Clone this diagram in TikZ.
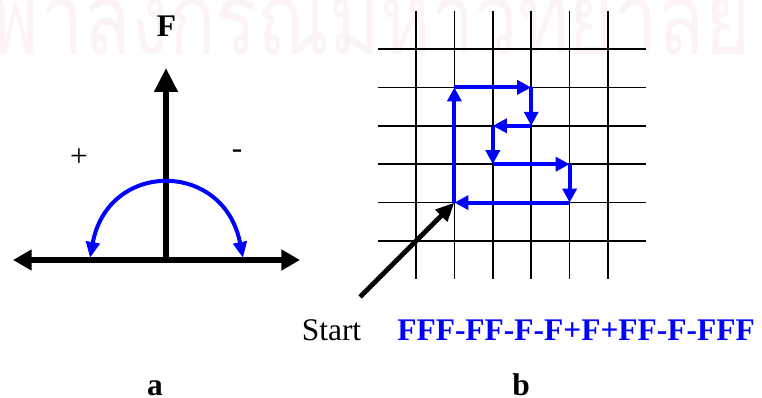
\documentclass[tikz,border=0pt]{standalone}
\usepackage{fontspec}
\usepackage{graphicx}
\setmainfont{Liberation Serif}
\newfontfamily\thaifont[Script=Thai]{Loma}
\usetikzlibrary{arrows.meta}
\definecolor{pathblue}{RGB}{0,0,255}
\definecolor{markpink}{RGB}{252,243,247}

\begin{document}
\begin{tikzpicture}[x=0.75pt, y=-0.75pt,
    every node/.style={font=\fontsize{23.6}{28}\selectfont, inner sep=0pt},
    axis/.style={line width=4.2pt, -{Triangle[length=18pt,width=17pt]}},
    move/.style={pathblue, line width=3pt, -{Triangle[length=10.5pt,width=10.5pt]}},
    gridline/.style={line width=1.1pt}]
  \useasboundingbox (0,0) rectangle (762,398);

  % watermark
  \begin{scope}
    \clip (0,0) rectangle (762,398);
    \node[anchor=base west, font=\thaifont\fontsize{58}{60}\selectfont, text=markpink]
      (mark) at (-58,55) {\scalebox{1}[1.3]{จุฬาลงกรณ์มหาวิทยาลัย}};
  \end{scope}

  % a: axes and turn
  \coordinate (o) at (166,260);
  \coordinate (up) at (166,68);
  \coordinate (west) at (13,260);
  \coordinate (east) at (300,260);
  \draw[line width=4.2pt, {Triangle[length=14pt,width=15pt]}-{Triangle[length=14pt,width=15pt]}]
    (west) -- (east);
  \draw[axis] (o) -- (up);
  \coordinate (al) at (90,258);
  \coordinate (ar) at (243,258);
  \draw[pathblue, line width=3pt, {Triangle[length=12pt,width=10pt]}-{Triangle[length=12pt,width=10pt]}]
    (al) .. controls (108,160) and (224,160) .. (ar);
  \node[anchor=base] (flabel) at (166.5,37) {\textbf{F}};
  \node[anchor=base] (plus) at (79,167) {+};
  \node[anchor=base] (minus) at (237,159) {-};
  \node[anchor=base] (la) at (155,395) {\textbf{a}};

  % b: grid walk
  \begin{scope}[shift={(416,49)}, x=28.8pt, y=-28.8pt]
    \foreach \i in {0,...,5} {
      \draw[gridline] (\i,-1) -- (\i,6);
      \draw[gridline] (-1,\i) -- (6,\i);
    }
    \coordinate (s) at (1,4);
    \coordinate (m1) at (1,1);
    \coordinate (m2) at (3,1);
    \coordinate (m3) at (3,2);
    \coordinate (m4) at (2,2);
    \coordinate (m5) at (2,3);
    \coordinate (m6) at (4,3);
    \coordinate (m7) at (4,4);
    \foreach \a/\b in {s/m1,m1/m2,m2/m3,m3/m4,m4/m5,m5/m6,m6/m7,m7/s}
      \draw[move] (\a) -- (\b);
  \end{scope}
  \coordinate (tail) at (360,297);
  \draw[line width=3.7pt, -{Triangle[length=14pt,width=12pt]}] (tail) -- (s);
  \node[anchor=base] (start) at (331.5,340) {Start};
  \node[anchor=base, text=pathblue] (code) at (576,340) {\textbf{FFF-FF-F-F+F+FF-F-FFF}};
  \node[anchor=base] (lb) at (521,395) {\textbf{b}};
\end{tikzpicture}
\end{document}
